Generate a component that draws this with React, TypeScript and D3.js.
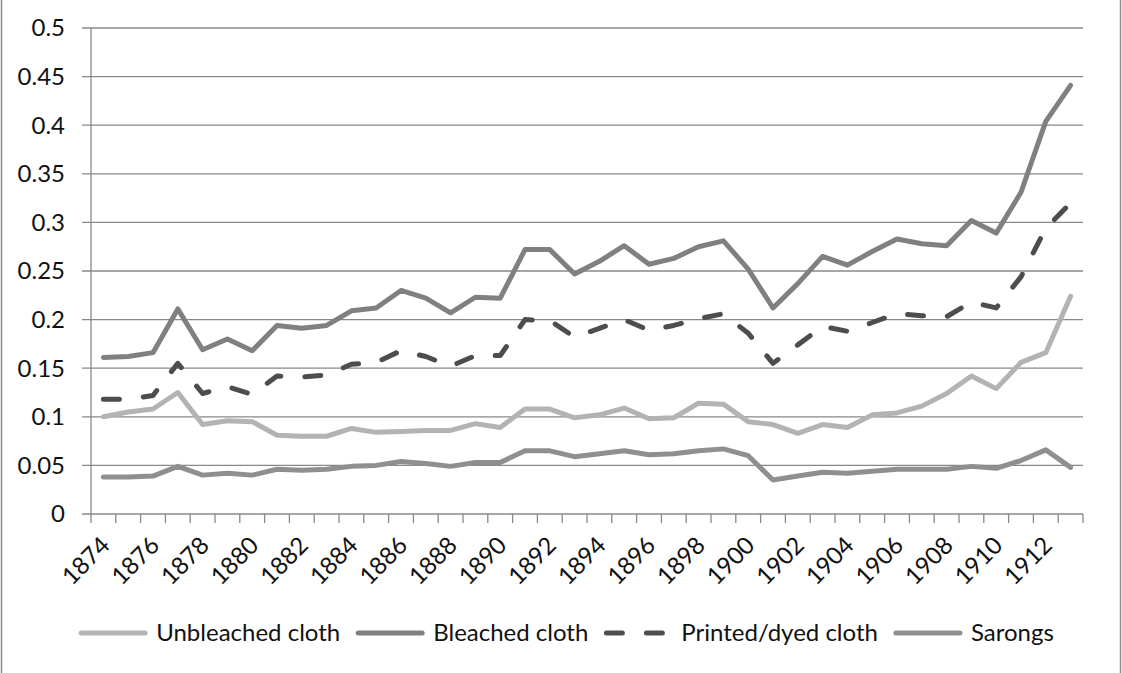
import React, { useEffect, useRef } from 'react';
import * as d3 from 'd3';

const years = d3.range(1874, 1914).map(String);
const yTicks = [0, 0.05, 0.1, 0.15, 0.2, 0.25, 0.3, 0.35, 0.4, 0.45, 0.5];

const unbleached = [0.100, 0.105, 0.108, 0.125, 0.092, 0.096, 0.095, 0.081, 0.080, 0.080,
  0.088, 0.084, 0.085, 0.086, 0.086, 0.093, 0.089, 0.108, 0.108, 0.099,
  0.102, 0.109, 0.098, 0.099, 0.114, 0.113, 0.095, 0.092, 0.083, 0.092,
  0.089, 0.102, 0.104, 0.111, 0.124, 0.142, 0.129, 0.156, 0.166, 0.224];
const bleached = [0.161, 0.162, 0.166, 0.211, 0.169, 0.180, 0.168, 0.194, 0.191, 0.194,
  0.209, 0.212, 0.230, 0.222, 0.207, 0.223, 0.222, 0.272, 0.272, 0.247,
  0.260, 0.276, 0.257, 0.263, 0.275, 0.281, 0.252, 0.212, 0.237, 0.265,
  0.256, 0.270, 0.283, 0.278, 0.276, 0.302, 0.289, 0.331, 0.404, 0.441];
const printed = [0.118, 0.118, 0.122, 0.155, 0.124, 0.131, 0.123, 0.142, 0.141, 0.143,
  0.154, 0.156, 0.168, 0.162, 0.152, 0.163, 0.163, 0.200, 0.199, 0.182,
  0.191, 0.200, 0.189, 0.194, 0.201, 0.206, 0.186, 0.155, 0.174, 0.193,
  0.188, 0.197, 0.206, 0.204, 0.203, 0.218, 0.212, 0.244, 0.294, 0.320];
const sarongs = [0.038, 0.038, 0.039, 0.049, 0.040, 0.042, 0.040, 0.046, 0.045, 0.046,
  0.049, 0.050, 0.054, 0.052, 0.049, 0.053, 0.053, 0.065, 0.065, 0.059,
  0.062, 0.065, 0.061, 0.062, 0.065, 0.067, 0.060, 0.035, 0.039, 0.043,
  0.042, 0.044, 0.046, 0.046, 0.046, 0.049, 0.047, 0.055, 0.066, 0.048];

const series = [
  { name: 'Unbleached cloth', values: unbleached, color: '#b3b3b3', dash: null },
  { name: 'Bleached cloth', values: bleached, color: '#808080', dash: null },
  { name: 'Printed/dyed cloth', values: printed, color: '#4d4d4d', dash: '16,24' },
  { name: 'Sarongs', values: sarongs, color: '#8f8f8f', dash: null },
];

const W = 1122, H = 673;
const FONT = 'Lato, "Open Sans", sans-serif';
const FS = 24;

export default function App() {
  const ref = useRef<SVGSVGElement>(null);

  useEffect(() => {
    const svg = d3.select(ref.current);
    svg.selectAll('*').remove();

    const left = 91, right = 1083, top = 28, bottom = 514;

    const x = d3.scaleBand().domain(years).range([left, right]);
    const y = d3.scaleLinear().domain([0, 0.5]).range([bottom, top]);

    // frame
    svg.append('rect')
      .attr('x', 1.5).attr('y', -5)
      .attr('width', 1119).attr('height', H + 10)
      .attr('fill', 'white').attr('stroke', '#8c8c8c').attr('stroke-width', 1.5);

    // gridlines + y labels
    const gy = svg.append('g');
    yTicks.forEach(t => {
      gy.append('line')
        .attr('x1', left - 9).attr('x2', right)
        .attr('y1', y(t)).attr('y2', y(t))
        .attr('stroke', '#888').attr('stroke-width', 1.3);
      gy.append('text')
        .attr('x', 65).attr('y', y(t))
        .attr('dy', '0.35em')
        .attr('text-anchor', 'end')
        .attr('font-family', FONT).attr('font-size', FS)
        .attr('fill', '#111')
        .text(String(t));
    });

    // axes
    svg.append('line')
      .attr('x1', left).attr('x2', left).attr('y1', top).attr('y2', bottom)
      .attr('stroke', '#888').attr('stroke-width', 1.3);
    const bounds = years.map(d => x(d) as number).concat([right]);
    bounds.forEach(b => {
      svg.append('line')
        .attr('x1', b).attr('x2', b).attr('y1', bottom).attr('y2', bottom + 9)
        .attr('stroke', '#888').attr('stroke-width', 1.3);
    });

    // x labels
    years.forEach((yr, i) => {
      if (i % 2 !== 0) return;
      const cx = (x(yr) as number) + x.bandwidth() / 2;
      svg.append('text')
        .attr('transform', `translate(${cx - 4},${bottom + 21}) rotate(-45)`)
        .attr('dy', '0.7em')
        .attr('text-anchor', 'end')
        .attr('font-family', FONT).attr('font-size', FS)
        .attr('fill', '#111')
        .text(yr);
    });

    // lines
    const line = d3.line<number>()
      .x((d, i) => (x(years[i]) as number) + x.bandwidth() / 2)
      .y(d => y(d));

    series.forEach(s => {
      svg.append('path')
        .attr('d', line(s.values))
        .attr('fill', 'none')
        .attr('stroke', s.color)
        .attr('stroke-width', 5)
        .attr('stroke-linejoin', 'round')
        .attr('stroke-linecap', 'round')
        .attr('stroke-dasharray', s.dash);
    });

    // legend
    const legend = svg.append('g');
    const ly = 633, swatch = 70, gapText = 8, gapItem = 15;
    let cur = 0;
    series.forEach(s => {
      const g = legend.append('g').attr('transform', `translate(${cur},0)`);
      g.append('line')
        .attr('x1', 3).attr('x2', swatch - 3)
        .attr('y1', ly).attr('y2', ly)
        .attr('stroke', s.color).attr('stroke-width', 5)
        .attr('stroke-linecap', 'round')
        .attr('stroke-dasharray', s.dash ? '16,24' : null);
      const t = g.append('text')
        .attr('x', swatch + gapText).attr('y', ly)
        .attr('dy', '0.35em')
        .attr('font-family', FONT).attr('font-size', FS)
        .attr('fill', '#111')
        .text(s.name);
      const w = (t.node() as SVGTextElement).getComputedTextLength();
      cur += swatch + gapText + w + gapItem;
    });
    const total = cur - gapItem;
    legend.attr('transform', `translate(${566 - total / 2},0)`);
  }, []);

  return (
    <svg
      ref={ref}
      width={W}
      height={H}
      style={{ position: 'absolute', left: 0, top: 0, background: 'white' }}
    />
  );
}
